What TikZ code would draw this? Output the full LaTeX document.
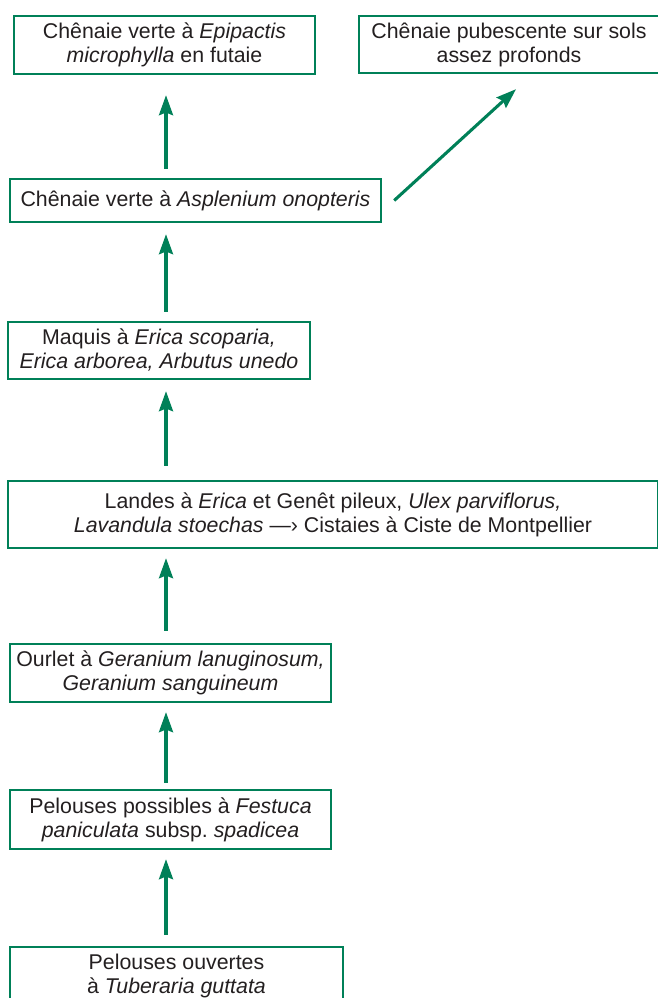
\documentclass[tikz,border=0pt]{standalone}
\usepackage{fontspec}
\setmainfont{Liberation Sans}
\usetikzlibrary{arrows.meta,calc}
\definecolor{vert}{RGB}{0,128,88}
\definecolor{txt}{RGB}{35,31,32}
\begin{document}
\begin{tikzpicture}[x=0.75pt,y=-0.75pt,
  box/.style={draw=vert, line width=1.8pt, inner sep=0pt, align=center, text=txt,
    font=\fontsize{16}{18}\selectfont},
  arr/.style={draw=vert, line width=2.3pt, -{Stealth[length=15pt,width=10.5pt,inset=2pt]}}]
\useasboundingbox (0,0) rectangle (657,998);
\node[box, minimum width=225.75pt, minimum height=43.5pt] (n1) at (164.5,45) {Chênaie verte à \textit{Epipactis}\\\textit{microphylla} en futaie};
\node[box, minimum width=225pt, minimum height=42.75pt] (n2) at (509,44.5) {Chênaie pubescente sur sols\\assez profonds};
\node[box, minimum width=278.25pt, minimum height=32.25pt] (n3) at (195.5,200.5) {Chênaie verte à \textit{Asplenium onopteris}};
\node[box, minimum width=226.5pt, minimum height=42.75pt] (n4) at (159,350.5) {Maquis à \textit{Erica scoparia,}\\\textit{Erica arborea, Arbutus unedo}};
\node[box, minimum width=487.5pt, minimum height=50.25pt] (n5) at (333,514.5) {Landes à \textit{Erica} et Genêt pileux, \textit{Ulex parviflorus,}\\\textit{Lavandula stoechas} —› Cistaies à Ciste de Montpellier};
\node[box, minimum width=240.75pt, minimum height=43.5pt] (n6) at (170.5,673) {Ourlet à \textit{Geranium lanuginosum,}\\\textit{Geranium sanguineum}};
\node[box, minimum width=240.75pt, minimum height=44.25pt] (n7) at (170.5,819.5) {Pelouses possibles à \textit{Festuca}\\\textit{paniculata} subsp.\ \textit{spadicea}};
\node[box, minimum width=249.75pt, minimum height=43.5pt] (n8) at (176.5,976) {Pelouses ouvertes\\à \textit{Tuberaria guttata}};
\coordinate (ax) at (166,0);
\draw[arr, shorten <=6.75pt, shorten >=15pt] (ax |- n3.north) -- (ax |- n1.south);
\draw[arr, shorten <=6.75pt, shorten >=8.25pt] (ax |- n4.north) -- (ax |- n3.south);
\draw[arr, shorten <=10.5pt, shorten >=8.25pt] (ax |- n5.north) -- (ax |- n4.south);
\draw[arr, shorten <=9pt, shorten >=6.75pt] (ax |- n6.north) -- (ax |- n5.south);
\draw[arr, shorten <=4.5pt, shorten >=6.75pt] (ax |- n7.north) -- (ax |- n6.south);
\draw[arr, shorten <=8.25pt, shorten >=6.75pt] (ax |- n8.north) -- (ax |- n7.south);
\draw[arr] ($(n3.east)+(12,0)$) -- ($(n2.south)+(7,15)$);
\end{tikzpicture}
\end{document}
